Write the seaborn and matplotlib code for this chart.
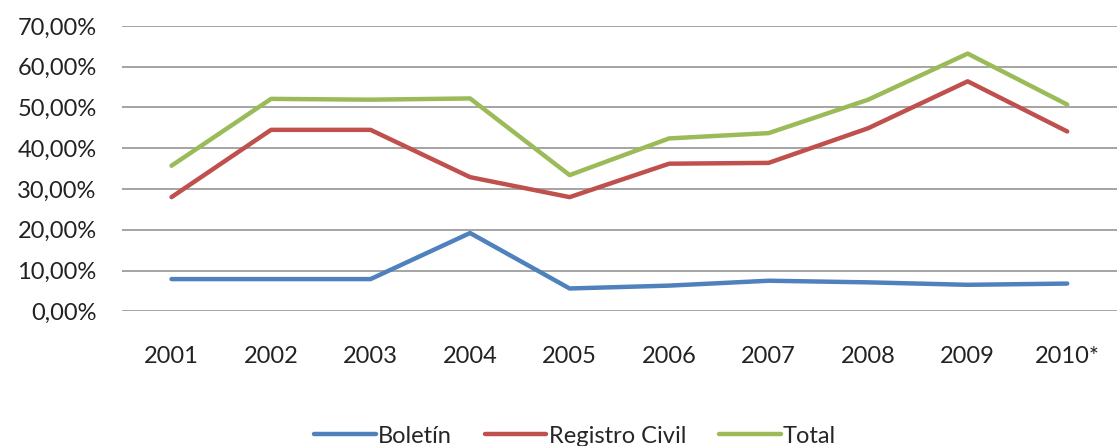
# Import libraries
import pandas as pd
import seaborn as sns
import matplotlib.pyplot as plt
from matplotlib.ticker import FuncFormatter

# Data (share in %)
years = ['2001', '2002', '2003', '2004', '2005', '2006', '2007', '2008', '2009', '2010*']
boletin = [7.9, 7.9, 7.9, 19.2, 5.6, 6.3, 7.5, 7.1, 6.5, 6.8]
registro_civil = [28.0, 44.5, 44.5, 32.9, 28.0, 36.2, 36.4, 44.9, 56.4, 44.1]
total = [35.7, 52.1, 51.9, 52.2, 33.4, 42.4, 43.7, 51.9, 63.2, 50.7]
series_names = ['Boletín', 'Registro Civil', 'Total']
colors = ['#4F81BD', '#C0504D', '#9BBB59']

# Long format for seaborn
data = pd.DataFrame({
    'year': years * 3,
    'value': boletin + registro_civil + total,
    'serie': [series_names[0]] * 10 + [series_names[1]] * 10 + [series_names[2]] * 10,
})

sns.set_style('white')
plt.rcParams['font.family'] = ['Lato', 'DejaVu Sans']

fig = plt.figure(figsize=(11.17, 4.46), dpi=100)
ax = fig.add_axes([0.109, 0.302, 0.891, 0.640])

sns.lineplot(data=data, x='year', y='value', hue='serie', palette=colors,
             linewidth=3.2, ax=ax, legend=False, sort=False)

# ----------- Axes styling -----------
ax.set_ylim(0, 70)
ax.set_xlim(-0.5, 9.5)
ax.set_yticks(range(0, 71, 10))
ax.yaxis.set_major_formatter(FuncFormatter(lambda v, p: f'{v:.2f}%'.replace('.', ',')))
ax.grid(axis='y', color='#8c8c8c', linewidth=1.1)
ax.set_axisbelow(True)
for s in ax.spines.values():
    s.set_visible(False)
ax.tick_params(axis='y', length=0, pad=18, labelsize=17, labelcolor='#222222')
ax.tick_params(axis='x', length=0, pad=25, labelsize=17, labelcolor='#222222')
ax.set_xlabel('')
ax.set_ylabel('')

# Legend at the bottom (cut by the figure edge as in the original)
handles = [plt.Line2D([0], [0], color=c, linewidth=3.2) for c in colors]
fig.legend(handles, series_names, loc='center', bbox_to_anchor=(0.515, 0.022),
           ncol=3, frameon=False, fontsize=17, handlelength=2.6,
           handletextpad=0.1, columnspacing=1.4)

plt.savefig('out.png', dpi=100)
